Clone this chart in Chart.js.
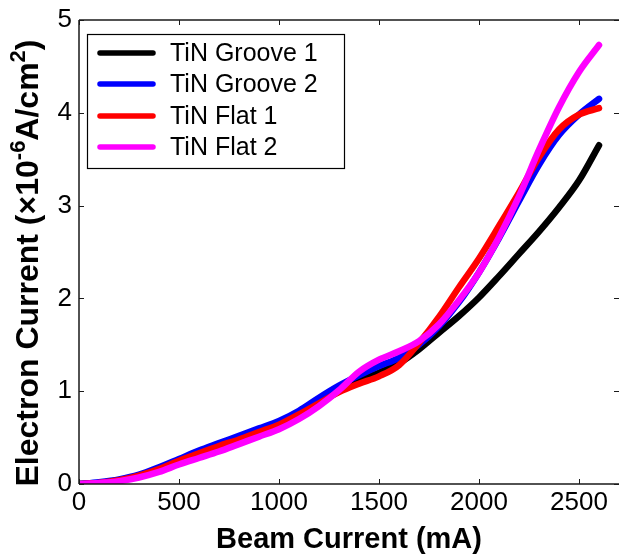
<!DOCTYPE html>
<html>
<head>
<meta charset="utf-8">
<script src="https://cdn.jsdelivr.net/npm/chart.js@4.4.0/dist/chart.umd.min.js"></script>
<style>
    body { margin: 0; background: #fff; }
    #wrap { width: 619px; height: 554px; }
</style>
</head>
<body>
<div id="wrap"><canvas id="myChart" width="619" height="554"></canvas></div>
<script>
// beam current (mA), sampled every 100 mA
var beamCurrent = [0, 100, 200, 300, 400, 500, 600, 700, 800, 900, 1000, 1100, 1200, 1300,
    1400, 1500, 1600, 1700, 1800, 1900, 2000, 2100, 2200, 2300, 2400, 2500, 2600];

// electron current (x10^-6 A/cm^2)
var tinGroove1 = [0, 0.01, 0.04, 0.09, 0.16, 0.25, 0.33, 0.41, 0.49, 0.57, 0.65, 0.75, 0.87, 1.00,
    1.11, 1.20, 1.30, 1.45, 1.63, 1.81, 2.01, 2.24, 2.48, 2.72, 2.98, 3.27, 3.65];
var tinGroove2 = [0, 0.02, 0.05, 0.10, 0.18, 0.27, 0.36, 0.44, 0.52, 0.60, 0.68, 0.79, 0.93, 1.06,
    1.17, 1.27, 1.36, 1.50, 1.70, 1.96, 2.28, 2.65, 3.05, 3.44, 3.76, 3.98, 4.15];
var tinFlat1 = [0, 0.01, 0.04, 0.09, 0.16, 0.25, 0.33, 0.41, 0.48, 0.56, 0.64, 0.75, 0.87, 0.99,
    1.08, 1.16, 1.28, 1.52, 1.80, 2.12, 2.43, 2.78, 3.14, 3.52, 3.82, 3.98, 4.05];
var tinFlat2 = [0, 0.01, 0.03, 0.07, 0.13, 0.21, 0.28, 0.35, 0.43, 0.51, 0.59, 0.70, 0.84, 1.01,
    1.21, 1.34, 1.43, 1.54, 1.72, 1.98, 2.28, 2.66, 3.10, 3.60, 4.06, 4.44, 4.73];

var seriesNames = ["TiN Groove 1", "TiN Groove 2", "TiN Flat 1", "TiN Flat 2"];
var seriesColors = ["#000000", "#0000ff", "#ff0000", "#ff00ff"];
var seriesValues = [tinGroove1, tinGroove2, tinFlat1, tinFlat2];

var xTicks = [0, 500, 1000, 1500, 2000, 2500];
var yTicks = [0, 1, 2, 3, 4, 5];

var FONT = "'Liberation Sans', Arial, Helvetica, sans-serif";

function makePoints(values) {
    return values.map(function(v, i) { return { x: beamCurrent[i], y: v }; });
}

var datasets = seriesValues.map(function(vals, i) {
    return {
        label: seriesNames[i],
        data: makePoints(vals),
        borderColor: seriesColors[i],
        backgroundColor: seriesColors[i],
        borderWidth: 6.5,
        borderCapStyle: 'round',
        borderJoinStyle: 'round',
        pointRadius: 0,
        fill: false,
        cubicInterpolationMode: 'monotone',
        order: 3 - i   // later series drawn on top
    };
});

// frame, inward ticks, axis titles and legend box
var framePlugin = {
    id: 'frame',
    afterDatasetsDraw: function(chart) {
        var ctx = chart.ctx;
        var a = chart.chartArea;
        var xs = chart.scales.x, ys = chart.scales.y;
        ctx.save();
        ctx.strokeStyle = '#1a1a1a';
        ctx.lineWidth = 1.5;
        ctx.beginPath();
        ctx.moveTo(a.left, a.top); ctx.lineTo(a.right, a.top);
        ctx.moveTo(a.left, a.bottom); ctx.lineTo(a.right, a.bottom);
        ctx.moveTo(a.left, a.top); ctx.lineTo(a.left, a.bottom);
        ctx.stroke();

        ctx.lineWidth = 1;
        ctx.beginPath();
        xTicks.forEach(function(t) {
            var px = Math.round(xs.getPixelForValue(t)) + 0.5;
            ctx.moveTo(px, a.bottom); ctx.lineTo(px, a.bottom - 5);
            ctx.moveTo(px, a.top); ctx.lineTo(px, a.top + 5);
        });
        yTicks.forEach(function(t) {
            var py = Math.round(ys.getPixelForValue(t)) + 0.5;
            ctx.moveTo(a.left, py); ctx.lineTo(a.left + 5, py);
            ctx.moveTo(a.right, py); ctx.lineTo(a.right - 5, py);
        });
        ctx.stroke();

        // legend
        var lx = 87, ly = 34, lw = 257, lh = 134;
        ctx.fillStyle = '#fff';
        ctx.fillRect(lx, ly, lw, lh);
        ctx.strokeStyle = '#000';
        ctx.lineWidth = 1.2;
        ctx.strokeRect(lx + 0.5, ly + 0.5, lw, lh);
        var rows = [53, 84, 116, 147];
        ctx.font = '25px ' + FONT;
        ctx.textBaseline = 'middle';
        ctx.textAlign = 'left';
        seriesNames.forEach(function(name, i) {
            ctx.strokeStyle = seriesColors[i];
            ctx.lineWidth = 5.5;
            ctx.lineCap = 'round';
            ctx.beginPath();
            ctx.moveTo(100, rows[i]);
            ctx.lineTo(153, rows[i]);
            ctx.stroke();
            ctx.fillStyle = '#000';
            ctx.fillText(name, 170, rows[i] + 1);
        });

        // x axis title
        ctx.fillStyle = '#000';
        ctx.font = 'bold 29px ' + FONT;
        ctx.textAlign = 'center';
        ctx.textBaseline = 'alphabetic';
        ctx.fillText('Beam Current (mA)', (a.left + a.right) / 2, 548);

        // y axis title with superscripts
        var parts = [
            { t: 'Electron Current (\u00d710', sup: false },
            { t: '-6', sup: true },
            { t: 'A/cm', sup: false },
            { t: '2', sup: true },
            { t: ')', sup: false }
        ];
        var big = 'bold 32px ' + FONT, small = 'bold 22px ' + FONT;
        var total = 0;
        parts.forEach(function(p) {
            ctx.font = p.sup ? small : big;
            p.w = ctx.measureText(p.t).width;
            total += p.w;
        });
        ctx.translate(38, 263);
        ctx.rotate(-Math.PI / 2);
        ctx.textAlign = 'left';
        var cx = -total / 2;
        parts.forEach(function(p) {
            ctx.font = p.sup ? small : big;
            ctx.fillText(p.t, cx, p.sup ? -13 : 0);
            cx += p.w;
        });
        ctx.restore();
    }
};

var ctx = document.getElementById('myChart').getContext('2d');
var myChart = new Chart(ctx, {
    type: 'line',
    data: { datasets: datasets },
    options: {
        responsive: false,
        animation: false,
        events: [],
        layout: { padding: { top: 15, right: 0, left: 0, bottom: 0 } },
        plugins: {
            legend: { display: false },
            tooltip: { enabled: false },
            title: { display: false }
        },
        scales: {
            x: {
                type: 'linear',
                min: 0,
                max: 2700,
                afterFit: function(scale) { scale.height = 70; },
                afterBuildTicks: function(scale) {
                    scale.ticks = xTicks.map(function(v) { return { value: v }; });
                },
                grid: { display: false, drawTicks: false },
                border: { display: false },
                ticks: {
                    autoSkip: false,
                    maxRotation: 0,
                    padding: 3,
                    color: '#000',
                    font: { family: FONT, size: 26 },
                    callback: function(v) { return String(v); }
                }
            },
            y: {
                type: 'linear',
                min: 0,
                max: 5,
                afterFit: function(scale) { scale.width = 79; },
                afterBuildTicks: function(scale) {
                    scale.ticks = yTicks.map(function(v) { return { value: v }; });
                },
                grid: { display: false, drawTicks: false },
                border: { display: false },
                ticks: {
                    padding: 7,
                    color: '#000',
                    font: { family: FONT, size: 26, lineHeight: 1 },
                    callback: function(v) { return String(v); }
                }
            }
        }
    },
    plugins: [framePlugin]
});
</script>
</body>
</html>
